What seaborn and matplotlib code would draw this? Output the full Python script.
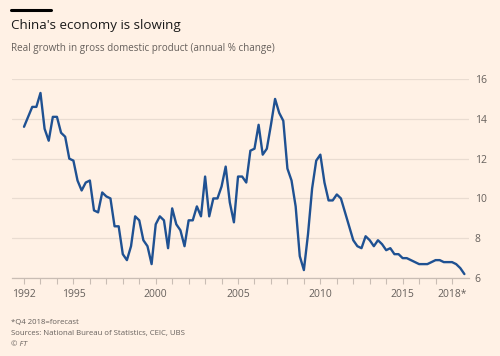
import pandas as pd
import matplotlib.pyplot as plt
import seaborn as sns

# Quarterly real GDP growth, % y/y, 1992 Q1 - 2018 Q4 (Q4 2018 forecast)
years = list(range(1992, 2019))
gdp_growth = [
    13.6, 14.1, 14.6, 14.6,   # 1992
    15.3, 13.5, 12.9, 14.1,   # 1993
    14.1, 13.3, 13.1, 12.0,   # 1994
    11.9, 10.9, 10.4, 10.8,   # 1995
    10.9, 9.4, 9.3, 10.3,     # 1996
    10.1, 10.0, 8.6, 8.6,     # 1997
    7.2, 6.9, 7.6, 9.1,       # 1998
    8.9, 7.9, 7.6, 6.7,       # 1999
    8.7, 9.1, 8.9, 7.5,       # 2000
    9.5, 8.7, 8.4, 7.6,       # 2001
    8.9, 8.9, 9.6, 9.1,       # 2002
    11.1, 9.1, 10.0, 10.0,    # 2003
    10.6, 11.6, 9.8, 8.8,     # 2004
    11.1, 11.1, 10.8, 12.4,   # 2005
    12.5, 13.7, 12.2, 12.5,   # 2006
    13.7, 15.0, 14.3, 13.9,   # 2007
    11.5, 10.9, 9.6, 7.1,     # 2008
    6.4, 8.2, 10.5, 11.9,     # 2009
    12.2, 10.8, 9.9, 9.9,     # 2010
    10.2, 10.0, 9.3, 8.6,     # 2011
    7.9, 7.6, 7.5, 8.1,       # 2012
    7.9, 7.6, 7.9, 7.7,       # 2013
    7.4, 7.5, 7.2, 7.2,       # 2014
    7.0, 7.0, 6.9, 6.8,       # 2015
    6.7, 6.7, 6.7, 6.8,       # 2016
    6.9, 6.9, 6.8, 6.8,       # 2017
    6.8, 6.7, 6.5, 6.2,       # 2018
]
tick_years = [1992, 1995, 2000, 2005, 2010, 2015, 2018]
tick_labels = ['1992', '1995', '2000', '2005', '2010', '2015', '2018*']
y_ticks = [6, 8, 10, 12, 14, 16]

df = pd.DataFrame({
    'year': [y for y in years for q in range(4)],
    'quarter': [q for y in years for q in range(4)],
    'growth': gdp_growth,
})
df['t'] = df['year'] + df['quarter'] / 4

bg = '#FFF1E5'
grey = '#66605C'
sns.set_style('white')
plt.rcParams['font.family'] = ['Open Sans', 'DejaVu Sans']

fig = plt.figure(figsize=(5, 3.56), dpi=100, facecolor=bg)
ax = fig.add_axes([0.024, 0.219, 0.914, 0.559], facecolor=bg)

sns.lineplot(data=df, x='t', y='growth', ax=ax, color='#1F5192', linewidth=1.7)

ax.set_xlim(1991.27, 2019.03)
ax.set_ylim(6, 16)
ax.set_xticks(tick_years)
ax.set_xticklabels(tick_labels)
ax.set_xticks(years, minor=True)
ax.set_yticks(y_ticks)
ax.yaxis.tick_right()
ax.tick_params(axis='y', length=0, pad=4, labelsize=7.5, labelcolor=grey)
ax.tick_params(axis='x', which='both', length=4, color='#C9BDB4', width=0.8,
               direction='out', pad=4, labelsize=7.5, labelcolor=grey, bottom=True)
ax.grid(axis='y', color='#E9DCD1', linewidth=0.9)
ax.set_axisbelow(True)
for s in ['top', 'left', 'right']:
    ax.spines[s].set_visible(False)
ax.spines['bottom'].set_color('#C9BDB4')
ax.spines['bottom'].set_linewidth(0.9)
ax.set_xlabel('')
ax.set_ylabel('')

# header
fig.add_artist(plt.Line2D([0.022, 0.102], [0.972, 0.972], color='black', linewidth=2.2))
fig.text(0.022, 0.927, "China's economy is slowing", fontsize=9.6, color='#1a1a1a', va='center')
fig.text(0.022, 0.865, 'Real growth in gross domestic product (annual % change)',
         fontsize=7.15, color=grey, va='center')

# footer
fig.text(0.022, 0.095, '*Q4 2018=forecast', fontsize=5.6, color=grey, va='center')
fig.text(0.022, 0.064, 'Sources: National Bureau of Statistics, CEIC, UBS', fontsize=5.6, color=grey, va='center')
fig.text(0.022, 0.033, '© FT', fontsize=5.6, color=grey, va='center', style='italic')

fig.savefig('out.png', dpi=100, facecolor=bg)
